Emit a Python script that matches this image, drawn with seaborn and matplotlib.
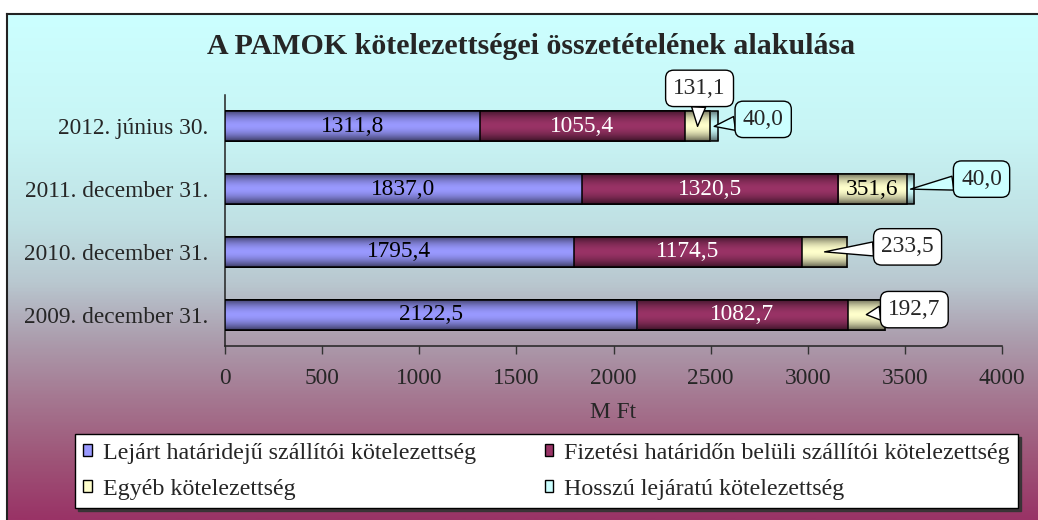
import numpy as np
import pandas as pd
import matplotlib
matplotlib.use("Agg")
import matplotlib.pyplot as plt
import seaborn as sns
from matplotlib.colors import LinearSegmentedColormap, to_rgb
from matplotlib.patches import Patch

# adatok
kategoriak = ["2012. június 30.", "2011. december 31.", "2010. december 31.", "2009. december 31."]
lejart = [1311.8, 1837.0, 1795.4, 2122.5]
fizetesi = [1055.4, 1320.5, 1174.5, 1082.7]
egyeb = [131.1, 351.6, 233.5, 192.7]
hosszu = [40.0, 40.0, 0.0, 0.0]
sorozat_nevek = ["Lejárt határidejű szállítói kötelezettség",
                 "Fizetési határidőn belüli szállítói kötelezettség",
                 "Egyéb kötelezettség",
                 "Hosszú lejáratú kötelezettség"]
szinek = ["#9999FF", "#993366", "#FFFFCC", "#CCFFFF"]

sns.set_theme(style="white")
plt.rcParams["font.family"] = ["Liberation Serif", "DejaVu Serif"]
FS = 16.8

W, H = 1038, 520
fig = plt.figure(figsize=(W / 100, H / 100), dpi=100)
fig.patch.set_facecolor("white")

# háttér színátmenet
bg = fig.add_axes([7 / W, 0, 1 - 7 / W, 1 - 14 / H], zorder=-10)
stops = [(0.0, (204, 255, 255)), (0.23, (200, 245, 245)), (0.41, (192, 225, 228)),
         (0.53, (185, 200, 208)), (0.64, (172, 158, 174)), (0.76, (165, 120, 145)),
         (0.88, (158, 85, 120)), (1.0, (153, 51, 102))]
bg_cmap = LinearSegmentedColormap.from_list("bg", [(s, tuple(v / 255 for v in c)) for s, c in stops])
bg.imshow(np.linspace(0, 1, 400).reshape(-1, 1), cmap=bg_cmap, aspect="auto",
          extent=[0, 1, 1, 0], interpolation="bilinear")
bg.set_xlim(0, 1)
bg.set_ylim(1, 0)
bg.set_xticks([])
bg.set_yticks([])
for s in ["right", "bottom"]:
    bg.spines[s].set_visible(False)
for s in ["left", "top"]:
    bg.spines[s].set_color("#222222")
    bg.spines[s].set_linewidth(1.5)

# fő diagram
ax = fig.add_axes([225 / W, 1 - 346 / H, (1002 - 225) / W, (346 - 95) / H])
ax.patch.set_alpha(0)

c1 = np.array(lejart)
c2 = c1 + np.array(fizetesi)
c3 = c2 + np.array(egyeb)
c4 = c3 + np.array(hosszu)


def gradiens(szin):
    r, g, b = to_rgb(szin)
    t = np.linspace(0, 1, 64)
    f = 1 - 0.6 * np.abs(2 * t - 1) ** 1.8
    return np.stack([np.array([r, g, b]) * fi for fi in f]).reshape(-1, 1, 3)


z = 2
for kum, szin in zip([c4, c3, c2, c1], szinek[::-1]):
    n0 = len(ax.patches)
    sns.barplot(x=kum, y=kategoriak, orient="h", color=szin, saturation=1,
                width=0.48, edgecolor="black", linewidth=1.1, ax=ax)
    img = gradiens(szin)
    for p in ax.patches[n0:]:
        x0, y0 = p.get_x(), p.get_y()
        w, h = p.get_width(), p.get_height()
        im = ax.imshow(img, extent=[x0, x0 + w, y0 + h, y0], aspect="auto",
                       interpolation="bilinear", zorder=z)
        im.set_clip_path(p)
        p.set_facecolor("none")
        p.set_zorder(z + 0.5)
    z += 1

ax.set_xlim(0, 4000)
ax.set_ylim(3.5, -0.5)
ax.set_xticks(np.arange(0, 4001, 500))
ax.set_xlabel("M Ft", fontsize=FS, labelpad=9)
ax.set_ylabel("")
ax.tick_params(axis="x", direction="out", length=6, width=1, color="#333333",
               labelsize=FS, pad=10, bottom=True)
ax.tick_params(axis="y", length=0, labelsize=FS, pad=12)
sns.despine(ax=ax, top=True, right=True)
for s in ["left", "bottom"]:
    ax.spines[s].set_color("#222222")
    ax.spines[s].set_linewidth(1.1)


def fmt(v):
    return f"{v:.1f}".replace(".", ",")


# feliratok a sávokban
for i in range(len(kategoriak)):
    ax.text(lejart[i] / 2, i, fmt(lejart[i]), ha="center", va="center",
            fontsize=FS, color="black", zorder=20)
    ax.text(c1[i] + fizetesi[i] / 2, i, fmt(fizetesi[i]), ha="center", va="center",
            fontsize=FS, color="white", zorder=20)
ax.text(c2[1] + egyeb[1] / 2, 1, fmt(egyeb[1]), ha="center", va="center",
        fontsize=FS, color="black", zorder=20)

# buborékos feliratok
buborekok = [
    (c2[0] + egyeb[0] / 2, 0, egyeb[0], (2, 38), "white"),
    (c3[0] + hosszu[0] / 2, 0, hosszu[0], (49, 7), "#CCFFFF"),
    (c3[1] + hosszu[1] / 2, 1, hosszu[1], (71, 10), "#CCFFFF"),
    (c2[2] + egyeb[2] / 2, 2, egyeb[2], (83, 5), "white"),
    (c2[3] + egyeb[3] / 2, 3, egyeb[3], (48, 5), "white"),
]
for x, y, v, off, fc in buborekok:
    ax.annotate(fmt(v), xy=(x, y), xytext=off, textcoords="offset pixels",
                ha="center", va="center", fontsize=FS, zorder=30,
                bbox=dict(boxstyle="round,pad=0.33,rounding_size=0.35", fc=fc, ec="black", lw=1),
                arrowprops=dict(arrowstyle="wedge,tail_width=0.6,shrink_factor=0.5",
                                fc=fc, ec="black", lw=1, shrinkA=0, shrinkB=0),
                annotation_clip=False)

# cím
fig.text(531 / W, 1 - 46 / H, "A PAMOK kötelezettségei összetételének alakulása",
         ha="center", va="center", fontsize=21.5, fontweight="bold")

# jelmagyarázat (soronként töltve)
sorrend = [0, 2, 1, 3]
kezelok = [Patch(facecolor=szinek[k], edgecolor="black", linewidth=1) for k in sorrend]
leg = fig.legend(kezelok, [sorozat_nevek[k] for k in sorrend], ncol=2, mode="expand",
                 bbox_to_anchor=(75 / W, 1 - 508 / H, (1018 - 75) / W, (508 - 437) / H),
                 loc="lower left", fontsize=17.3, frameon=True, fancybox=False,
                 edgecolor="black", facecolor="white", framealpha=1,
                 shadow={"color": "#333333", "alpha": 0.9},
                 handlelength=0.35, handleheight=0.35, handletextpad=0.45,
                 borderaxespad=0, borderpad=0.35, labelspacing=0.62, columnspacing=1.0)
leg.get_frame().set_linewidth(1)

fig.savefig("out.png", dpi=100)
